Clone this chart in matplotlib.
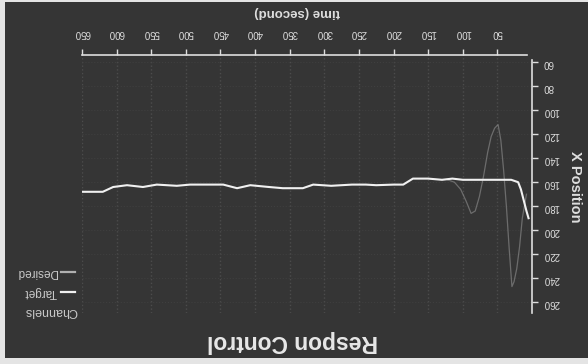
import matplotlib
matplotlib.use("Agg")
import matplotlib.pyplot as plt
from matplotlib.lines import Line2D
from matplotlib.patches import Rectangle

# position samples over time (seconds)
target_time = [5, 8, 12, 16, 20, 30, 45, 60, 80, 100, 115, 130, 150, 172, 186, 200,
               225, 240, 260, 290, 316, 331, 360, 380, 407, 426, 446, 470, 494, 513,
               542, 562, 585, 605, 620, 635, 650]
target_pos = [190, 184, 175, 166, 160, 158, 158, 158, 158, 158, 157, 158, 157, 157, 162, 162,
              162.5, 162, 162, 163, 162, 165, 165, 164, 162.5, 165, 162, 162, 162, 163,
              162, 164, 162.5, 164, 168, 168, 168]

desired_time = [8, 14, 18, 22, 26, 29, 33, 37, 41, 45, 49, 54, 59, 64, 70, 76, 82, 88,
                95, 103, 112, 122]
desired_pos = [170, 190, 214, 232, 243, 247, 215, 180, 150, 125, 112, 115, 122, 135, 155,
               172, 184, 186, 176, 166, 160, 158]

x_ticks = list(range(50, 651, 50))
y_ticks = list(range(60, 261, 20))

BG = "#353535"
FG = "#dedede"

plt.rcParams["font.family"] = ["Liberation Sans", "DejaVu Sans"]

W, H = 588, 364
fig = plt.figure(figsize=(W / 100, H / 100), dpi=100, facecolor="#e4e4e4")
fig.add_artist(Rectangle((5 / W, 6 / H), 1 - 5 / W, 1 - 8 / H, transform=fig.transFigure,
                         facecolor=BG, edgecolor="none", zorder=0))

# the whole chart is laid out turned half a circle: time runs right-to-left,
# position grows downward, axes sit on top / right and all text is flipped
ax = fig.add_axes([82 / W, 1 - 313 / H, 450 / W, 258 / H])
ax.set_facecolor(BG)
ax.set_xlim(650, 0)
ax.set_ylim(269, 54)

ax.plot(desired_time, desired_pos, color="#9a9a9a", linewidth=0.9, alpha=0.55, zorder=3)
ax.plot(target_time, target_pos, color="#f0f0f0", linewidth=1.5, zorder=4)

ax.set_xticks(x_ticks)
ax.set_yticks(y_ticks)
ax.xaxis.tick_top()
ax.yaxis.tick_right()
ax.tick_params(axis="x", colors=FG, labelsize=7, length=4, width=1, pad=8, labelrotation=180)
ax.tick_params(axis="y", colors=FG, labelsize=7, length=4, width=1, pad=4, labelrotation=180)
for spine in ("left", "bottom"):
    ax.spines[spine].set_visible(False)
for spine in ("top", "right"):
    ax.spines[spine].set_color(FG)
    ax.spines[spine].set_linewidth(1.2)
ax.spines["top"].set_bounds(7, 650)
ax.spines["right"].set_bounds(58, 269)
ax.grid(True, axis="x", color="#4c4c4c", linestyle=":", linewidth=1.0)
ax.grid(True, axis="y", color="#3f3f3f", linestyle=":", linewidth=0.8)
ax.set_axisbelow(True)

fig.text(292 / W, 1 - 341 / H, "Respon Control", rotation=180, ha="center", va="center",
         fontsize=16.5, fontweight="bold", color="#e8e8e8")
fig.text(297 / W, 1 - 12 / H, "time (second)", rotation=180, ha="center", va="center",
         fontsize=9.5, fontweight="bold", color=FG)
fig.text(575 / W, 1 - 187 / H, "X Position", rotation=270, ha="center", va="center",
         fontsize=10.5, fontweight="bold", color=FG)

# legend block
fig.text(77 / W, 1 - 311 / H, "Channels", rotation=180, ha="right", va="center",
         fontsize=9, color="#c8c8c8")
for label, color, y in (("Target", "#f0f0f0", 292), ("Desired", "#b0b0b0", 272)):
    fig.text(57 / W, 1 - y / H, label, rotation=180, ha="right", va="center",
             fontsize=8.5, color="#c8c8c8")
    fig.add_artist(Line2D([61 / W, 75 / W], [1 - y / H, 1 - y / H], transform=fig.transFigure,
                          color=color, linewidth=1.6))

fig.savefig("out.png", dpi=100, facecolor=fig.get_facecolor())
